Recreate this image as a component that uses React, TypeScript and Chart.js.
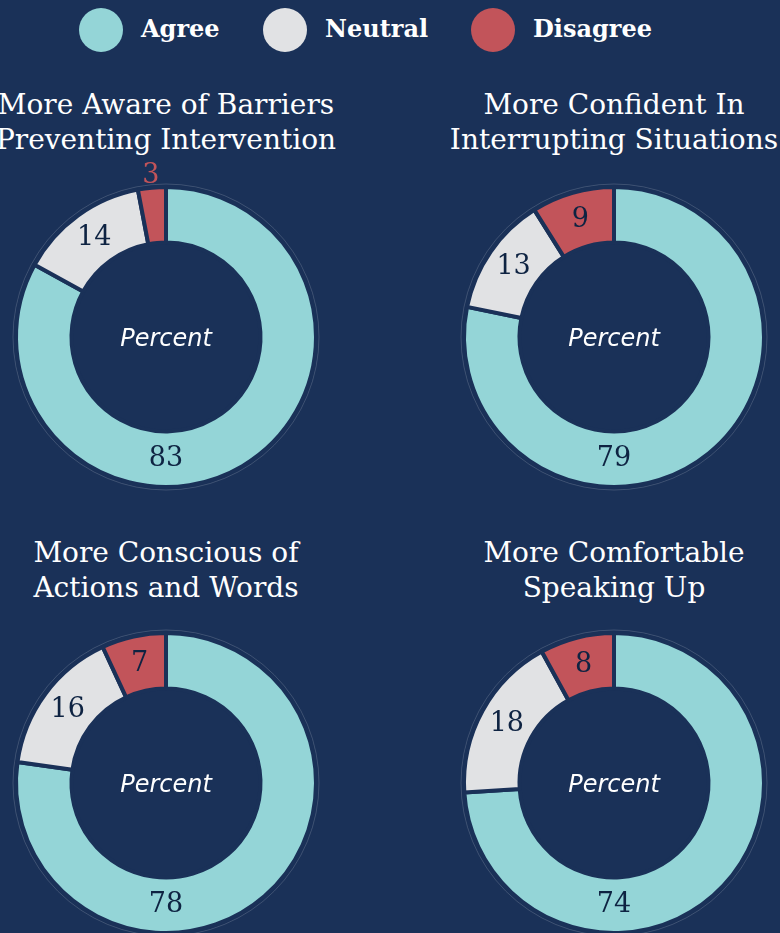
import React, { useEffect, useRef } from "react";
import { Chart, registerables } from "chart.js";

Chart.register(...registerables);

// ---- Data ----
const SERIES = ["Agree", "Neutral", "Disagree"];
const TITLE_AWARE = ["More Aware of Barriers", "Preventing Intervention"];
const TITLE_CONFIDENT = ["More Confident In", "Interrupting Situations"];
const TITLE_CONSCIOUS = ["More Conscious of", "Actions and Words"];
const TITLE_COMFORTABLE = ["More Comfortable", "Speaking Up"];
const AWARE = [83, 14, 3];
const CONFIDENT = [79, 13, 9];
const CONSCIOUS = [78, 16, 7];
const COMFORTABLE = [74, 18, 8];
const CENTER_TEXT = "Percent";

// ---- Styles ----
const BG = "#1a3158";
const COLORS = ["#94d5d7", "#e1e2e4", "#c2545a"];
const LABEL_DARK = "#0e2342";
const SERIF = "'DejaVu Serif', serif";

const CANVAS = 380;

const labelPlugin = {
  id: "ringLabels",
  beforeDatasetsDraw(chart: any) {
    const meta = chart.getDatasetMeta(0);
    const arc = meta.data[0];
    if (!arc) return;
    const { x, y, outerRadius } = arc.getProps(["x", "y", "outerRadius"], true);
    const ctx = chart.ctx;
    ctx.save();
    ctx.beginPath();
    ctx.arc(x, y, outerRadius + 3, 0, Math.PI * 2);
    ctx.strokeStyle = "rgba(255,255,255,0.16)";
    ctx.lineWidth = 1;
    ctx.stroke();
    ctx.restore();
  },
  afterDatasetsDraw(chart: any) {
    const ctx = chart.ctx;
    const ds = chart.data.datasets[0];
    const meta = chart.getDatasetMeta(0);
    const total = ds.data.reduce((a: number, b: number) => a + b, 0);
    ctx.save();
    let cx = 0, cy = 0;
    meta.data.forEach((el: any, i: number) => {
      const p = el.getProps(["x", "y", "startAngle", "endAngle", "innerRadius", "outerRadius"], true);
      cx = p.x; cy = p.y;
      const v = ds.data[i];
      let ang = (p.startAngle + p.endAngle) / 2;
      // largest segment spanning the bottom: label at the bottom
      if (v / total > 0.5 && p.startAngle <= Math.PI / 2 && p.endAngle >= Math.PI / 2) ang = Math.PI / 2;
      const small = v / total < 0.05;
      const r = small ? p.outerRadius + 12 : (p.innerRadius + p.outerRadius) / 2;
      const lx = p.x + Math.cos(ang) * r;
      const ly = p.y + Math.sin(ang) * r;
      ctx.font = `27px ${SERIF}`;
      ctx.fillStyle = small ? COLORS[i] : LABEL_DARK;
      ctx.textAlign = "center";
      ctx.textBaseline = "middle";
      ctx.fillText(String(v), lx, ly);
    });
    ctx.font = "italic 200 24px 'DejaVu Sans', sans-serif";
    ctx.fillStyle = "#ffffff";
    ctx.textAlign = "center";
    ctx.textBaseline = "middle";
    ctx.fillText(CENTER_TEXT, cx, cy + 3);
    ctx.restore();
  },
};

function Donut({ values, title, cx, cy, titleTop }: { values: number[]; title: string[]; cx: number; cy: number; titleTop: number }) {
  const ref = useRef<HTMLCanvasElement>(null);
  useEffect(() => {
    if (!ref.current) return;
    const chart = new Chart(ref.current, {
      type: "doughnut",
      data: {
        labels: SERIES,
        datasets: [
          {
            data: values,
            backgroundColor: COLORS,
            borderColor: BG,
            borderWidth: 4,
          },
        ],
      },
      options: {
        responsive: false,
        maintainAspectRatio: false,
        animation: false,
        events: [],
        radius: 150,
        cutout: "63%",
        layout: { padding: 0 },
        plugins: {
          legend: { display: false },
          tooltip: { enabled: false },
          title: { display: false },
        },
      } as any,
      plugins: [labelPlugin],
    });
    return () => chart.destroy();
  }, [values]);
  return (
    <>
      <div
        style={{
          position: "absolute",
          left: cx - 250,
          top: titleTop,
          width: 500,
          textAlign: "center",
          color: "#ffffff",
          font: `28px ${SERIF}`,
          lineHeight: "35px",
          whiteSpace: "nowrap",
        }}
      >
        {title.map((t, i) => (
          <div key={i}>{t}</div>
        ))}
      </div>
      <canvas
        ref={ref}
        width={CANVAS}
        height={CANVAS}
        style={{ position: "absolute", left: cx - CANVAS / 2, top: cy - CANVAS / 2, width: CANVAS, height: CANVAS }}
      />
    </>
  );
}

export default function App() {
  const legendX = [101, 285, 493];
  return (
    <div
      style={{
        position: "absolute",
        left: 0,
        top: 0,
        width: 780,
        height: 933,
        overflow: "hidden",
        background: BG,
      }}
    >
      {SERIES.map((s, i) => (
        <div key={s}>
          <div
            style={{
              position: "absolute",
              left: legendX[i] - 22,
              top: 8,
              width: 44,
              height: 44,
              borderRadius: "50%",
              background: COLORS[i],
            }}
          />
          <div
            style={{
              position: "absolute",
              left: legendX[i] + 40,
              top: 12,
              color: "#ffffff",
              font: `bold 24px ${SERIF}`,
              lineHeight: "34px",
              whiteSpace: "nowrap",
            }}
          >
            {s}
          </div>
        </div>
      ))}
      <Donut values={AWARE} title={TITLE_AWARE} cx={166} cy={337} titleTop={87} />
      <Donut values={CONFIDENT} title={TITLE_CONFIDENT} cx={614} cy={337} titleTop={87} />
      <Donut values={CONSCIOUS} title={TITLE_CONSCIOUS} cx={166} cy={783} titleTop={535} />
      <Donut values={COMFORTABLE} title={TITLE_COMFORTABLE} cx={614} cy={783} titleTop={535} />
    </div>
  );
}
